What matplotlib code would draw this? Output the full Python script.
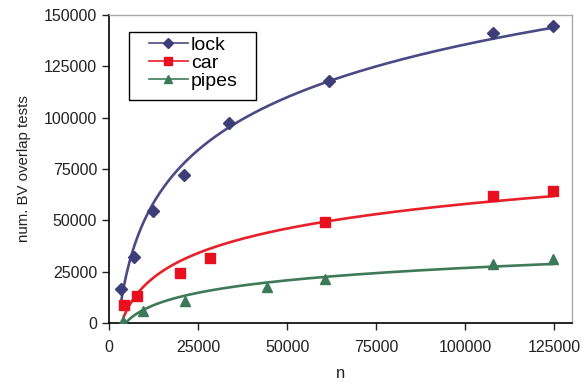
import numpy as np
import matplotlib
matplotlib.use("Agg")
import matplotlib.pyplot as plt
from matplotlib.patches import Rectangle

plt.rcParams['font.family'] = ['Liberation Sans', 'DejaVu Sans']

lock_n = [3300, 6900, 12400, 21000, 33700, 61900, 107700, 124700]
lock_v = [16600, 32100, 54700, 72100, 97600, 118000, 141100, 144700]
car_n = [4200, 7900, 19900, 28300, 60700, 107700, 124700]
car_v = [8800, 13300, 24500, 31800, 49400, 62000, 64300]
pipes_n = [4000, 9600, 21300, 44500, 60700, 107700, 124700]
pipes_v = [1000, 6000, 10900, 17700, 21400, 28600, 31200]

series = [
    ("lock", lock_n, lock_v, "#4a4a86", "#3d3d7a", "D", 6),
    ("car", car_n, car_v, "#e8202a", "#e8101e", "s", 7),
    ("pipes", pipes_n, pipes_v, "#3f7a58", "#3b7a58", "^", 7),
]

fig = plt.figure(figsize=(5.85, 3.87), dpi=100)
ax = fig.add_axes([0.1863, 0.1654, 0.7915, 0.7958])

handles = []
for name, xs, ys, lc, mc, mk, ms in series:
    xs = np.array(xs, float); ys = np.array(ys, float)
    a, b = np.polyfit(np.log(xs), ys, 1)
    xx = np.linspace(xs.min(), xs.max(), 300)
    ax.plot(xx, a * np.log(xx) + b, color=lc, lw=1.9, zorder=2)
    ax.plot(xs, ys, linestyle='none', marker=mk, ms=ms, color=mc, zorder=3)
    h, = ax.plot([], [], color=lc, lw=1.2, marker=mk, ms=ms - 1, mfc=mc, mec=mc, label=name)
    handles.append(h)

ax.set_xlim(0, 130000)
ax.set_ylim(0, 150000)
ax.set_xticks(np.arange(0, 125001, 25000))
ax.set_yticks(np.arange(0, 150001, 25000))
ax.tick_params(direction='out', length=5, width=1, labelsize=11.5, colors='#222222')
ax.tick_params(axis='x', pad=7)
for s in ['left', 'bottom']:
    ax.spines[s].set_color('black')
    ax.spines[s].set_linewidth(1.2)
for s in ['top', 'right']:
    ax.spines[s].set_color('#aaaaaa')
    ax.spines[s].set_linewidth(1.0)
ax.set_xlabel('n', fontsize=12, labelpad=8, color='#222222')
ax.set_ylabel('num. BV overlap tests', fontsize=10.8, labelpad=9, color='#222222')

# legend frame
ax.add_patch(Rectangle((0.0432, 0.724), 0.3175 - 0.0432, 0.9448 - 0.724,
                       transform=ax.transAxes, fill=True, facecolor='white',
                       edgecolor='black', lw=1.0, zorder=4))
leg = ax.legend(handles=handles, loc='upper left', bbox_to_anchor=(0.0864, 0.93),
                borderaxespad=0, fontsize=14, frameon=False,
                handlelength=2.0, handletextpad=0.15, borderpad=0.0, labelspacing=0.02)
leg.set_zorder(5)

fig.savefig('out.png', dpi=100)
